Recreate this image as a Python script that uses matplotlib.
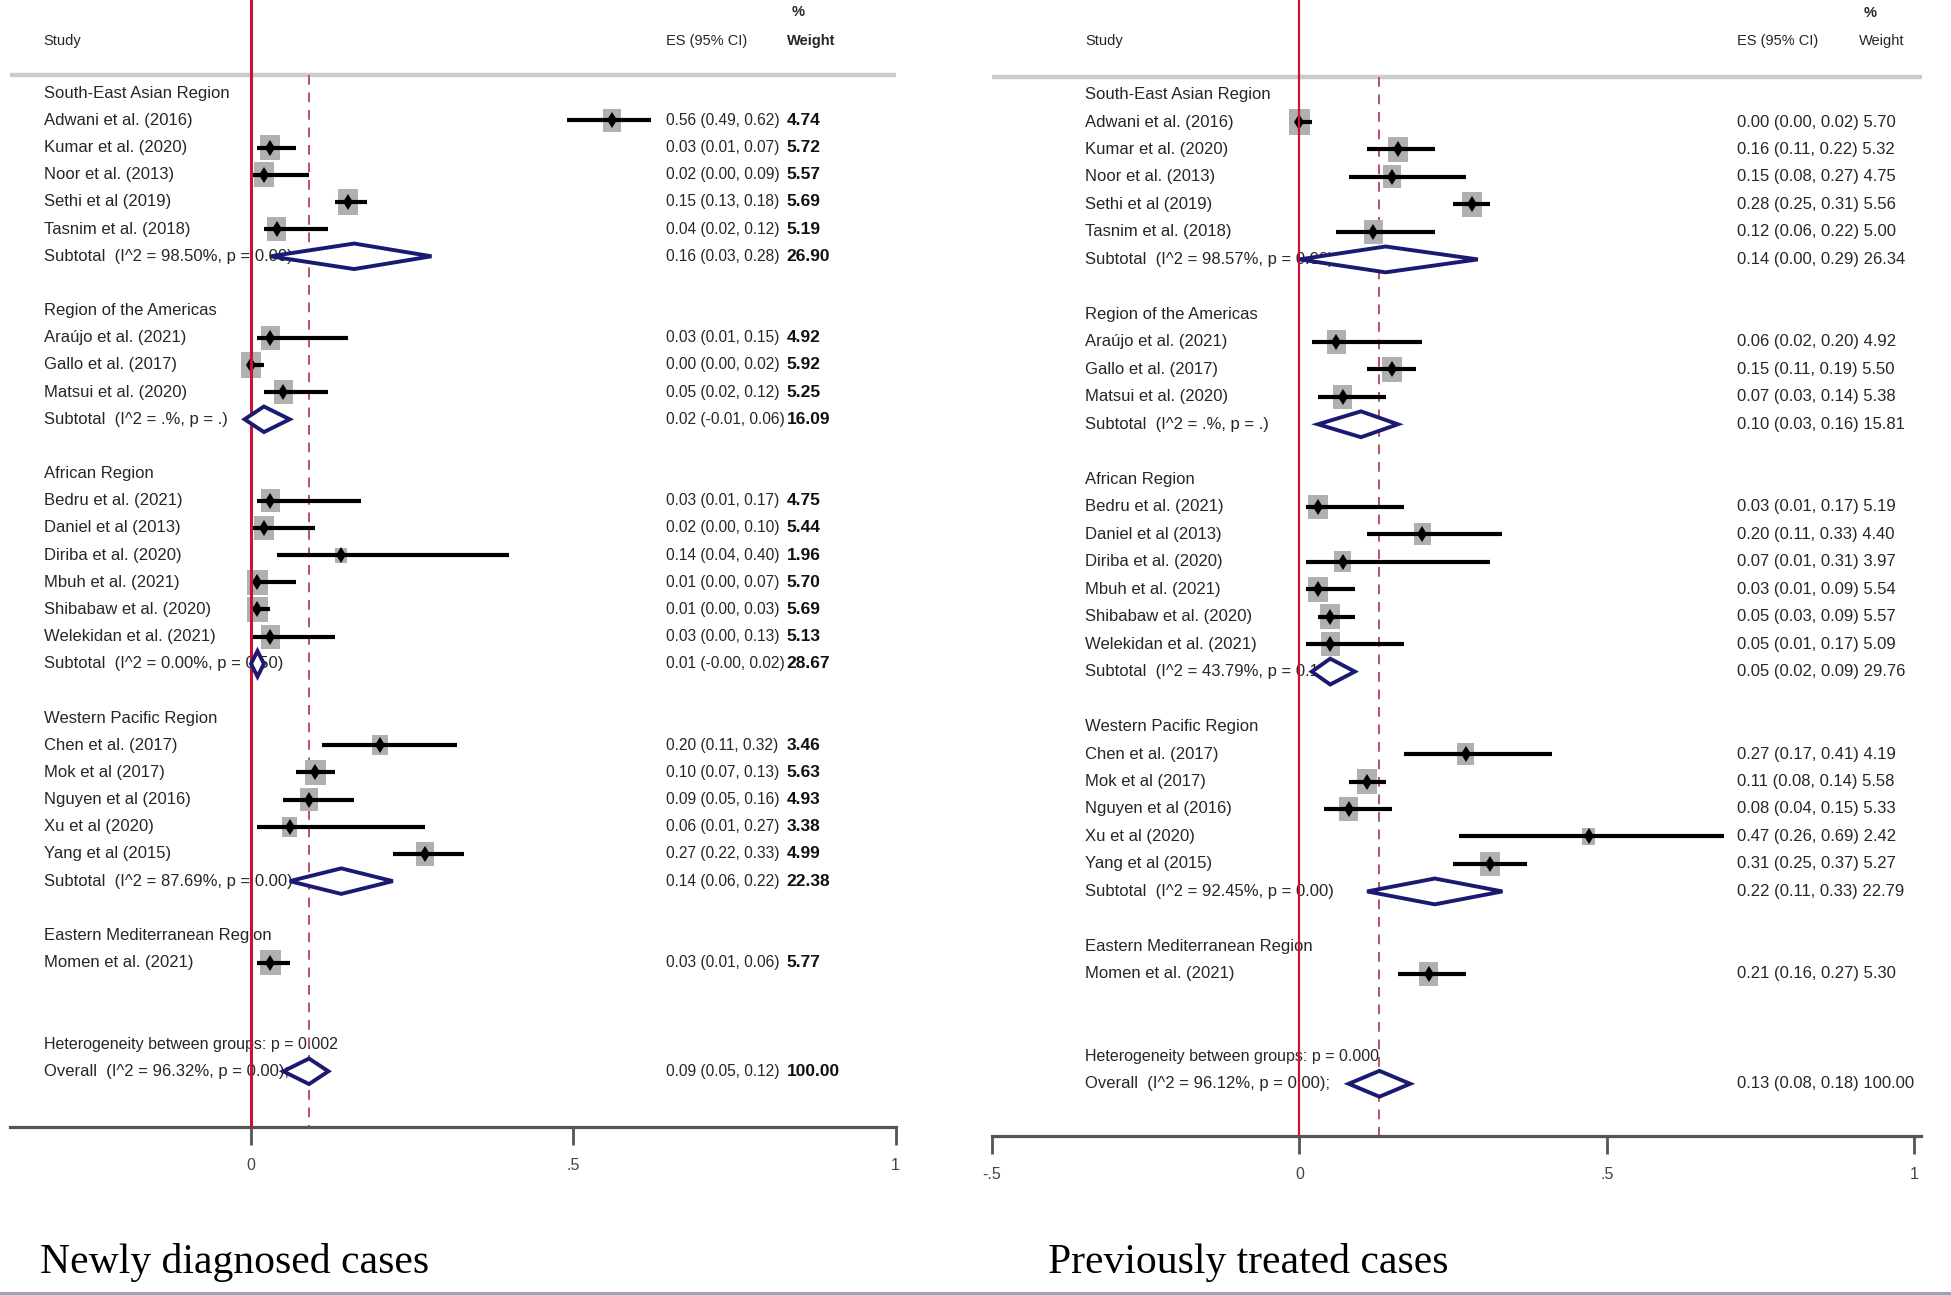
import matplotlib
matplotlib.use("Agg")
import matplotlib.pyplot as plt
from matplotlib import font_manager
from matplotlib.lines import Line2D
from matplotlib.path import Path

# ---------------- data ----------------
GROUP_NAMES = ["South-East Asian Region", "Region of the Americas", "African Region",
               "Western Pacific Region", "Eastern Mediterranean Region"]
GROUP_SIZES = [5, 3, 6, 5, 1]
STUDIES = ["Adwani et al. (2016)", "Kumar et al. (2020)", "Noor et al. (2013)", "Sethi et al (2019)",
           "Tasnim et al. (2018)",
           "Araújo et al. (2021)", "Gallo et al. (2017)", "Matsui et al. (2020)",
           "Bedru et al. (2021)", "Daniel et al (2013)", "Diriba et al. (2020)", "Mbuh et al. (2021)",
           "Shibabaw et al. (2020)", "Welekidan et al. (2021)",
           "Chen et al. (2017)", "Mok et al (2017)", "Nguyen et al (2016)", "Xu et al (2020)",
           "Yang et al (2015)",
           "Momen et al. (2021)"]

# Newly diagnosed cases
NEW_ES = [0.56, 0.03, 0.02, 0.15, 0.04, 0.03, 0.00, 0.05, 0.03, 0.02, 0.14, 0.01, 0.01, 0.03,
          0.20, 0.10, 0.09, 0.06, 0.27, 0.03]
NEW_LO = [0.49, 0.01, 0.00, 0.13, 0.02, 0.01, 0.00, 0.02, 0.01, 0.00, 0.04, 0.00, 0.00, 0.00,
          0.11, 0.07, 0.05, 0.01, 0.22, 0.01]
NEW_HI = [0.62, 0.07, 0.09, 0.18, 0.12, 0.15, 0.02, 0.12, 0.17, 0.10, 0.40, 0.07, 0.03, 0.13,
          0.32, 0.13, 0.16, 0.27, 0.33, 0.06]
NEW_W = [4.74, 5.72, 5.57, 5.69, 5.19, 4.92, 5.92, 5.25, 4.75, 5.44, 1.96, 5.70, 5.69, 5.13,
         3.46, 5.63, 4.93, 3.38, 4.99, 5.77]
NEW_SUB_LABEL = ["Subtotal  (I^2 = 98.50%, p = 0.00)", "Subtotal  (I^2 = .%, p = .)",
                 "Subtotal  (I^2 = 0.00%, p = 0.50)", "Subtotal  (I^2 = 87.69%, p = 0.00)"]
NEW_SUB_ES = [0.16, 0.02, 0.01, 0.14]
NEW_SUB_LO = [0.03, -0.01, -0.0, 0.06]
NEW_SUB_HI = [0.28, 0.06, 0.02, 0.22]
NEW_SUB_W = [26.90, 16.09, 28.67, 22.38]
NEW_HET = "Heterogeneity between groups: p = 0.002"
NEW_OVERALL = ["Overall  (I^2 = 96.32%, p = 0.00);", 0.09, 0.05, 0.12, 100.00]

# Previously treated cases
PREV_ES = [0.00, 0.16, 0.15, 0.28, 0.12, 0.06, 0.15, 0.07, 0.03, 0.20, 0.07, 0.03, 0.05, 0.05,
           0.27, 0.11, 0.08, 0.47, 0.31, 0.21]
PREV_LO = [0.00, 0.11, 0.08, 0.25, 0.06, 0.02, 0.11, 0.03, 0.01, 0.11, 0.01, 0.01, 0.03, 0.01,
           0.17, 0.08, 0.04, 0.26, 0.25, 0.16]
PREV_HI = [0.02, 0.22, 0.27, 0.31, 0.22, 0.20, 0.19, 0.14, 0.17, 0.33, 0.31, 0.09, 0.09, 0.17,
           0.41, 0.14, 0.15, 0.69, 0.37, 0.27]
PREV_W = [5.70, 5.32, 4.75, 5.56, 5.00, 4.92, 5.50, 5.38, 5.19, 4.40, 3.97, 5.54, 5.57, 5.09,
          4.19, 5.58, 5.33, 2.42, 5.27, 5.30]
PREV_SUB_LABEL = ["Subtotal  (I^2 = 98.57%, p = 0.00)", "Subtotal  (I^2 = .%, p = .)",
                  "Subtotal  (I^2 = 43.79%, p = 0.11)", "Subtotal  (I^2 = 92.45%, p = 0.00)"]
PREV_SUB_ES = [0.14, 0.10, 0.05, 0.22]
PREV_SUB_LO = [0.00, 0.03, 0.02, 0.11]
PREV_SUB_HI = [0.29, 0.16, 0.09, 0.33]
PREV_SUB_W = [26.34, 15.81, 29.76, 22.79]
PREV_HET = "Heterogeneity between groups: p = 0.000"
PREV_OVERALL = ["Overall  (I^2 = 96.12%, p = 0.00);", 0.13, 0.08, 0.18, 100.00]

TITLES = ["Newly diagnosed cases", "Previously treated cases"]

# ---------------- style ----------------
names = {f.name for f in font_manager.fontManager.ttflist}
NARROW = "Liberation Sans Narrow" if "Liberation Sans Narrow" in names else "Liberation Sans"
TXT = "#262626"
RED = "#cc1133"
DASH = "#b5506a"
NAVY = "#1a1a72"
GRAY_BOX = "#b0b0b0"

W, H = 1951, 1295
fig = plt.figure(figsize=(W / 100, H / 100), dpi=100)
fig.patch.set_facecolor("white")

box_marker = Path([(-0.4, -0.5), (0.4, -0.5), (0.4, 0.5), (-0.4, 0.5), (-0.4, -0.5)],
                  [Path.MOVETO, Path.LINETO, Path.LINETO, Path.LINETO, Path.CLOSEPOLY])


def panel(rect, xlim, ylim, es, lo, hi, w, sub_lab, sub_es, sub_lo, sub_hi, sub_w,
          het, overall, cols, ticks, ticklabels, single_string, red_lw, hdr_row, line_x1):
    ax = fig.add_axes(rect)
    ax.set_xlim(*xlim)
    ax.set_ylim(*ylim)
    for s in ("top", "left", "right"):
        ax.spines[s].set_visible(False)
    ax.spines["bottom"].set_color("#555555")
    ax.spines["bottom"].set_linewidth(2.3)
    ax.set_yticks([])
    ax.set_xticks(ticks)
    ax.set_xticklabels(ticklabels, fontfamily=NARROW, fontsize=11.5, color="#444444")
    ax.tick_params(axis="x", direction="out", length=13, width=2.0, color="#555555", pad=9)

    x_study, x_es, x_w = cols
    # headers
    ax.text(x_study, -1.93, "Study", fontfamily=NARROW, fontsize=10.5, color=TXT, va="center")
    ax.text(x_es, -1.93, "ES (95% CI)", fontfamily=NARROW, fontsize=10.5, color=TXT, va="center")
    ax.text(x_w, -1.93, "Weight", fontfamily=NARROW, fontsize=10.5, color=TXT, va="center",
            fontweight="bold" if not single_string else "normal")
    ax.text(x_w + 0.008, -2.98, "%", fontfamily=NARROW, fontsize=10.5, color=TXT, va="center",
            fontweight="bold")
    ax.plot([xlim[0], line_x1], [hdr_row, hdr_row], color="#cccccc", lw=3.2,
            solid_capstyle="butt", clip_on=False, zorder=1)

    # reference lines
    ax.axvline(0, color=RED, lw=red_lw, zorder=5)
    ax.plot([overall[1], overall[1]], [hdr_row, ylim[0]], color=DASH, lw=1.4,
            linestyle=(0, (5, 4)), zorder=1)

    def es_text(row, e, l, h, wt):
        if single_string:
            ax.text(x_es, row, f"{e:.2f} ({l:.2f}, {h:.2f}) {wt:.2f}", fontfamily=NARROW,
                    fontsize=12, color=TXT, va="center")
        else:
            ax.text(x_es, row, f"{e:.2f} ({l:.2f}, {h:.2f})", fontfamily=NARROW,
                    fontsize=11.2, color=TXT, va="center")
            ax.text(x_w, row, f"{wt:.2f}", fontfamily=NARROW, fontsize=12.5, color="#111111",
                    va="center", fontweight="bold")

    def diamond(row, e, l, h):
        hh = 0.47
        ax.fill([l, e, h, e, l], [row, row - hh, row, row + hh, row], facecolor="white",
                edgecolor=NAVY, lw=2.8, zorder=6, joinstyle="miter")

    r = 0
    k = 0
    rows, es_l, lo_l, hi_l, w_l = [], [], [], [], []
    for g, (gname, gsize) in enumerate(zip(GROUP_NAMES, GROUP_SIZES)):
        ax.text(x_study, r, gname, fontfamily=NARROW, fontsize=12, color=TXT, va="center")
        r += 1
        for _ in range(gsize):
            ax.text(x_study, r, STUDIES[k], fontfamily=NARROW, fontsize=12, color=TXT,
                    va="center")
            es_text(r, es[k], lo[k], hi[k], w[k])
            rows.append(r)
            es_l.append(es[k]); lo_l.append(lo[k]); hi_l.append(hi[k]); w_l.append(w[k])
            k += 1
            r += 1
        if gsize > 1:
            ax.text(x_study, r, sub_lab[g], fontfamily=NARROW, fontsize=12, color=TXT,
                    va="center")
            es_text(r, sub_es[g], sub_lo[g], sub_hi[g], sub_w[g])
            diamond(r, sub_es[g], sub_lo[g], sub_hi[g])
            r += 1
        r += 1
    het_row = r + 1
    ov_row = het_row + 1
    ax.text(x_study, het_row, het, fontfamily=NARROW, fontsize=11.5, color=TXT, va="center")
    ax.text(x_study, ov_row, overall[0], fontfamily=NARROW, fontsize=12, color=TXT, va="center")
    es_text(ov_row, overall[1], overall[2], overall[3], overall[4])
    diamond(ov_row, overall[1], overall[2], overall[3])

    ax.scatter(es_l, rows, s=[58 * x for x in w_l], marker=box_marker, color=GRAY_BOX,
               linewidths=0, zorder=2)
    ax.hlines(rows, lo_l, hi_l, color="black", lw=3.0, zorder=3)
    ax.plot(es_l, rows, linestyle="none", marker="d", markersize=8, color="black",
            markeredgewidth=0, zorder=4)
    return ax


def rect_px(left, top, width, height):
    return [left / W, 1 - (top + height) / H, width / W, height / H]


# left panel: zero at 251 px, 644.5 px per unit; row0 at 93.3 px, 27.17 px per row
ax1 = panel(rect_px(10, 0, 885.5, 1127), (-0.374, 1.0), (38.05, -3.434),
            NEW_ES, NEW_LO, NEW_HI, NEW_W, NEW_SUB_LABEL, NEW_SUB_ES, NEW_SUB_LO, NEW_SUB_HI,
            NEW_SUB_W, NEW_HET, NEW_OVERALL, (-0.322, 0.6435, 0.831),
            [0, 0.5, 1], ["0", ".5", "1"], False, 2.2, -0.685, 1.0)

# right panel: zero at 1299 px, 615 px per unit; row0 at 94.6 px, 27.48 px per row
ax2 = panel(rect_px(992, 0, 928.6, 1136), (-0.5, 1.01), (37.9, -3.44),
            PREV_ES, PREV_LO, PREV_HI, PREV_W, PREV_SUB_LABEL, PREV_SUB_ES, PREV_SUB_LO,
            PREV_SUB_HI, PREV_SUB_W, PREV_HET, PREV_OVERALL, (-0.348, 0.712, 0.909),
            [-0.5, 0, 0.5, 1], ["-.5", "0", ".5", "1"], True, 1.6, -0.64, 1.012)

fig.text(40 / W, 1 - 1263 / H, TITLES[0], fontfamily="Liberation Serif", fontsize=30,
         color="black", va="center")
fig.text(1048 / W, 1 - 1263 / H, TITLES[1], fontfamily="Liberation Serif", fontsize=30,
         color="black", va="center")
fig.add_artist(Line2D([0, 1], [2.5 / H, 2.5 / H], transform=fig.transFigure,
                      color="#9aa4b4", lw=2.2))

fig.savefig("out.png", dpi=100, facecolor="white")
